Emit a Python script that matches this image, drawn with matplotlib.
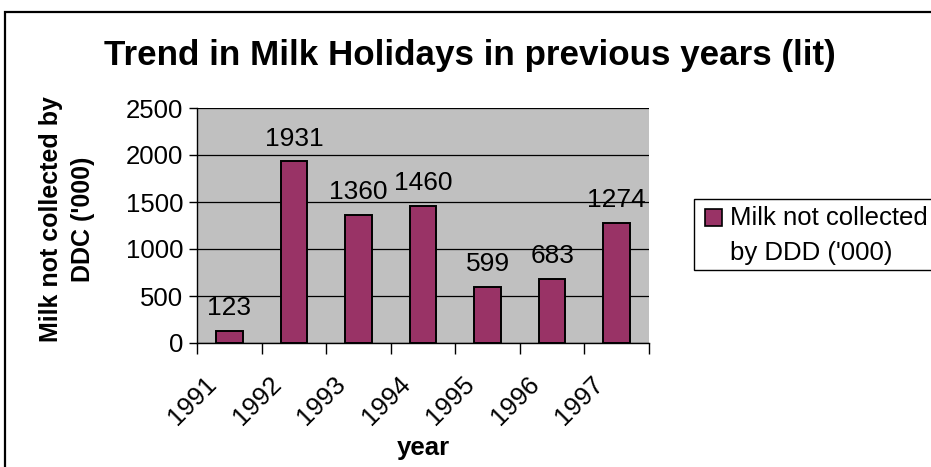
import matplotlib.pyplot as plt
from matplotlib.patches import Rectangle
from matplotlib.transforms import ScaledTranslation

years = ['1991', '1992', '1993', '1994', '1995', '1996', '1997']
milk = [123, 1931, 1360, 1460, 599, 683, 1274]
yticks = [0, 500, 1000, 1500, 2000, 2500]

plt.rcParams['font.family'] = ['Liberation Sans', 'DejaVu Sans']

W, H = 931, 467
fig = plt.figure(figsize=(W / 100, H / 100), dpi=100)
fig.patch.set_facecolor('white')


def fx(px):
    return px / W


def fy(py):
    return 1 - py / H


# outer chart frame (cut off at right and bottom)
fig.patches.append(Rectangle((fx(5), -0.1), 1.2, fy(12) + 0.1, transform=fig.transFigure,
                             fill=False, edgecolor='black', linewidth=1.6))

ax = fig.add_axes([fx(197), fy(343), fx(649 - 197), (343 - 108) / H])
ax.set_facecolor('#c0c0c0')

x = range(len(years))
bar_color = '#993366'
ax.bar(x, milk, width=0.41, color=bar_color, edgecolor='black', linewidth=1.4, zorder=3)
for i, v in enumerate(milk):
    ax.annotate(str(v), (i, v), xytext=(0, 11.5), textcoords='offset points',
                ha='center', va='baseline', fontsize=19, zorder=4)

ax.set_xlim(-0.5, len(years) - 0.5)
ax.set_ylim(0, 2500)
ax.set_yticks(yticks)
ax.tick_params(axis='y', labelsize=18.5, length=6, width=1, pad=4)
ax.yaxis.grid(True, color='black', linewidth=0.9, zorder=1)

ax.set_xticks([i - 0.5 for i in range(len(years) + 1)])
ax.set_xticklabels([])
ax.set_xticks(list(x), minor=True)
ax.set_xticklabels(years, minor=True, rotation=45, ha='right', rotation_mode='anchor', fontsize=18.5)
ax.tick_params(axis='x', which='major', length=8, width=1)
ax.tick_params(axis='x', which='minor', length=0, pad=10)
shift = ScaledTranslation(-25 / 100, -15 / 100, fig.dpi_scale_trans)
for lbl in ax.get_xticklabels(minor=True):
    lbl.set_transform(lbl.get_transform() + shift)

for s in ['top', 'right']:
    ax.spines[s].set_visible(False)
ax.spines['left'].set_linewidth(1)
ax.spines['bottom'].set_linewidth(1)

fig.text(fx(423), fy(455), 'year', ha='center', va='baseline', fontsize=18.5, fontweight='bold')
fig.text(fx(67), fy(219), "Milk not collected by\nDDC ('000)", rotation=90, ha='center', va='center',
         fontsize=18, fontweight='bold', linespacing=1.4, multialignment='center')

fig.text(fx(470), fy(65), 'Trend in Milk Holidays in previous years (lit)', ha='center', va='baseline',
         fontsize=25.2, fontweight='bold')

# legend box (cut off at right edge)
fig.patches.append(Rectangle((fx(694), fy(270)), 0.5, (270 - 199) / H, transform=fig.transFigure,
                             facecolor='white', edgecolor='black', linewidth=1))
fig.patches.append(Rectangle((fx(705), fy(226)), fx(17), 17 / H, transform=fig.transFigure,
                             facecolor=bar_color, edgecolor='black', linewidth=1.2))
fig.text(fx(730), fy(225), 'Milk not collected', va='baseline', fontsize=18.5)
fig.text(fx(730), fy(260), "by DDD ('000)", va='baseline', fontsize=18.5)

fig.savefig('out.png', dpi=100)
